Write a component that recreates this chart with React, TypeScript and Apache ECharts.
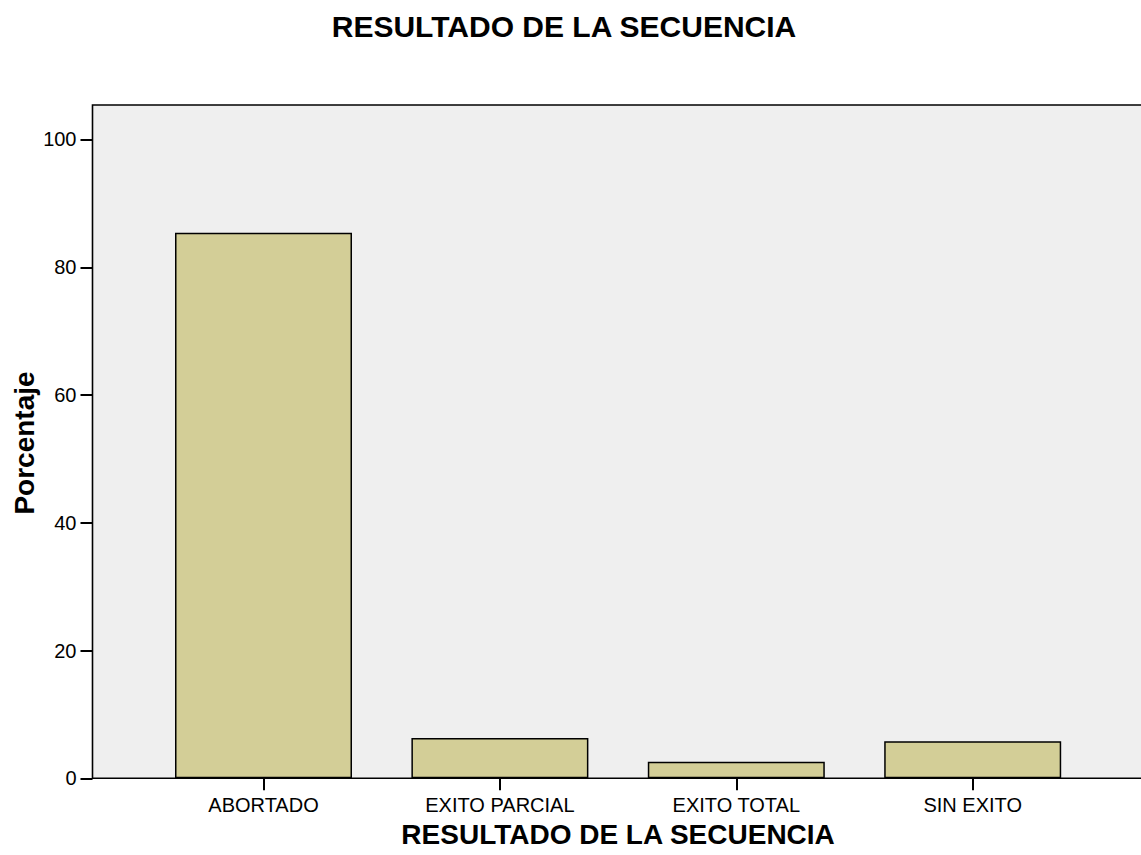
import React, { useEffect, useRef } from "react";
import * as echarts from "echarts";

const categories = ["ABORTADO", "EXITO PARCIAL", "EXITO TOTAL", "SIN EXITO"];
const percentages = [85.4, 6.3, 2.6, 5.8];
const yTicks = [0, 20, 40, 60, 80, 100];
const chartTitle = "RESULTADO DE LA SECUENCIA";
const xTitle = "RESULTADO DE LA SECUENCIA";
const yTitle = "Porcentaje";

const FONT = "'Liberation Sans', Arial, Helvetica, sans-serif";

export default function App() {
  const ref = useRef<HTMLDivElement>(null);
  useEffect(() => {
    if (!ref.current) return;
    const chart = echarts.init(ref.current, null, { renderer: "svg" });
    const plotLeft = 92.5;
    const plotTop = 105;
    const plotBottom = 778.3;
    chart.setOption({
      animation: false,
      backgroundColor: "#ffffff",
      title: {
        text: chartTitle,
        left: 559,
        top: 6,
        textAlign: "center",
        textStyle: { fontFamily: FONT, fontSize: 30, fontWeight: "bold", color: "#000" },
      },
      graphic: [
        {
          type: "rect",
          z: -10,
          silent: true,
          shape: { x: plotLeft, y: plotTop, width: 1141 - plotLeft + 10, height: plotBottom - plotTop },
          style: { fill: "#efefef", stroke: "#000", lineWidth: 1.6 },
        },
        {
          type: "text",
          x: 24,
          y: 443,
          rotation: Math.PI / 2,
          style: {
            text: yTitle,
            fontFamily: FONT,
            fontSize: 28,
            fontWeight: "bold",
            fill: "#000",
            textAlign: "center",
            textVerticalAlign: "middle",
          },
        },
      ],
      grid: { left: 145.3, right: 50.1, top: plotTop, bottom: 855 - plotBottom, containLabel: false },
      xAxis: {
        type: "category",
        data: categories,
        axisLine: { show: false },
        axisTick: { show: true, alignWithLabel: true, length: 12, lineStyle: { color: "#000", width: 2 } },
        axisLabel: { fontFamily: FONT, fontSize: 20, color: "#000", margin: 17 },
        name: xTitle,
        nameLocation: "middle",
        nameGap: 41,
        nameTextStyle: { fontFamily: FONT, fontSize: 28, fontWeight: "bold", color: "#000" },
        splitLine: { show: false },
      },
      yAxis: {
        type: "value",
        min: 0,
        max: 105.4,
        interval: 20,
        offset: 145.3 - plotLeft,
        axisLine: { show: false },
        axisTick: { show: true, length: 12, lineStyle: { color: "#000", width: 2 }, customValues: yTicks },
        axisLabel: {
          fontFamily: FONT,
          fontSize: 20,
          color: "#000",
          margin: 16,
          customValues: yTicks,
          formatter: (v: number) => (yTicks.indexOf(v) >= 0 ? String(v) : ""),
        },
        splitLine: { show: false },
      },
      series: [
        {
          type: "bar",
          data: percentages,
          barWidth: 177,
          itemStyle: { color: "#d3ce97", borderColor: "#000", borderWidth: 1.5 },
        },
      ],
    });
    return () => chart.dispose();
  }, []);
  return (
    <div
      ref={ref}
      style={{ position: "fixed", left: 0, top: 0, width: 1141, height: 855, background: "#fff" }}
    />
  );
}
